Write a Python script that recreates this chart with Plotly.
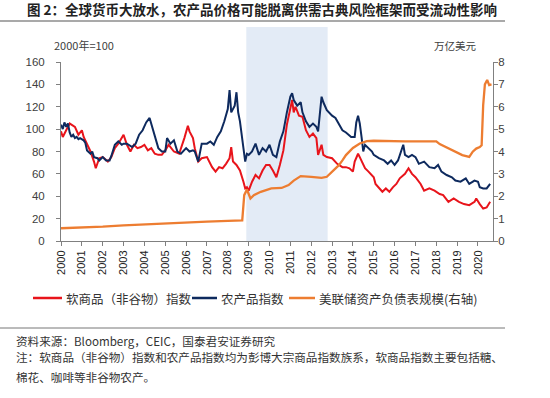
import plotly.graph_objects as go

# ---------------- data ----------------
agri_dates = ["2000-01","2000-02","2000-03","2000-04","2000-05","2000-06","2000-07","2000-08","2000-09","2000-10","2000-11","2000-12",
"2001-02","2001-03","2001-04","2001-06","2001-07","2001-08","2001-10","2001-11",
"2002-01","2002-03","2002-05","2002-06","2002-08","2002-10","2002-12",
"2003-01","2003-03","2003-06","2003-08","2003-10","2003-12",
"2004-02","2004-04","2004-05","2004-07","2004-09","2004-11",
"2005-01","2005-02","2005-04","2005-06","2005-08","2005-10",
"2006-01","2006-03","2006-05","2006-06","2006-08","2006-10",
"2007-01","2007-03","2007-05","2007-07","2007-09","2007-11",
"2008-01","2008-02","2008-03","2008-05","2008-06","2008-07","2008-08","2008-10","2008-11","2008-12",
"2009-01","2009-03","2009-05","2009-07","2009-09","2009-11",
"2010-01","2010-03","2010-05","2010-07","2010-09","2010-11",
"2011-01","2011-02","2011-03","2011-05","2011-07","2011-08","2011-10","2011-12",
"2012-02","2012-04","2012-05","2012-07","2012-08","2012-10",
"2013-01","2013-03","2013-05","2013-07","2013-09","2013-12",
"2014-02","2014-03","2014-04","2014-05","2014-06","2014-07","2014-08","2014-10","2014-12",
"2015-01","2015-04","2015-07","2015-09","2015-11",
"2016-01","2016-03","2016-06","2016-07","2016-09","2016-11",
"2017-01","2017-03","2017-06","2017-09","2017-12",
"2018-02","2018-04","2018-07","2018-10","2018-12",
"2019-03","2019-06","2019-08","2019-11",
"2020-01","2020-02","2020-04","2020-06","2020-08"]
agri_index = [104,100,106,102,105,97,93,95,92,93,91,92,
90,88,81,78,80,75,74,72,
75,72,72,76,86,89,86,
87,87,84,87,95,99,
106,110,105,93,83,80,
80,92,87,90,80,78,
83,80,81,80,71,87,
87,89,86,93,98,107,
118,135,115,121,133,115,107,83,71,78,
77,80,87,77,83,80,
86,77,75,89,98,115,
129,132,126,121,124,115,107,102,
105,102,98,129,124,117,
112,110,105,99,97,93,
93,106,112,105,93,80,86,83,80,
77,74,72,69,72,
68,72,86,77,75,77,
75,69,71,66,65,
68,62,59,57,54,
53,56,51,54,
53,48,47,47,51]

soft_dates = ["2000-01","2000-02","2000-04","2000-06","2000-07","2000-09","2000-11",
"2001-01","2001-02","2001-04","2001-06","2001-08","2001-09","2001-11",
"2002-01","2002-04","2002-06","2002-08","2002-10",
"2003-01","2003-03","2003-05","2003-07","2003-09","2003-11",
"2004-01","2004-03","2004-05","2004-07","2004-09","2004-11",
"2005-01","2005-03","2005-06","2005-09","2005-12",
"2006-02","2006-03","2006-05","2006-06","2006-08","2006-10",
"2007-01","2007-04","2007-06","2007-08","2007-10","2007-12",
"2008-02","2008-03","2008-04","2008-06","2008-08","2008-10","2008-11","2008-12",
"2009-01","2009-03","2009-05","2009-07","2009-09","2009-11",
"2010-01","2010-03","2010-05","2010-07","2010-09","2010-11",
"2011-01","2011-02","2011-03","2011-04","2011-06","2011-08","2011-10","2011-12",
"2012-02","2012-04","2012-05","2012-07","2012-08","2012-10",
"2013-01","2013-04","2013-07","2013-09","2013-11",
"2014-01","2014-02","2014-04","2014-05","2014-07","2014-08","2014-10",
"2015-01","2015-02","2015-04","2015-06","2015-08","2015-10","2015-12",
"2016-02","2016-04","2016-07","2016-09","2016-11",
"2017-01","2017-04","2017-06","2017-09","2017-12",
"2018-03","2018-05","2018-08","2018-11",
"2019-02","2019-05","2019-08","2019-11","2019-12",
"2020-02","2020-04","2020-06","2020-08"]
soft_index = [98,93,99,105,104,102,95,
99,93,86,80,71,65,74,
75,71,75,83,87,
95,86,80,86,83,84,
86,81,83,78,77,77,
81,86,80,78,92,
103,98,92,83,71,74,
75,66,62,66,65,69,
74,84,71,68,63,53,47,48,
45,53,59,56,63,68,
68,63,57,68,81,104,
118,126,115,120,112,111,99,93,
96,92,77,86,77,75,
74,69,66,66,65,
62,71,78,75,69,65,62,
57,51,48,44,47,44,48,
51,56,60,65,60,
57,51,45,47,45,
42,41,35,38,
35,33,32,35,38,
33,29,30,35]

fed_dates = ["2000-01-01","2001-01-01","2002-01-01","2003-01-01","2004-01-01","2005-01-01","2006-01-01","2007-01-01","2008-01-01",
"2008-09-10","2008-10-15","2008-12-01","2009-02-01","2009-04-01","2009-08-01","2010-02-01","2010-08-01","2010-12-01",
"2011-03-01","2011-07-01","2012-01-01","2012-07-01","2012-10-01","2013-02-01","2013-05-01","2013-07-01","2013-09-01",
"2014-01-01","2014-05-01","2014-09-01","2015-01-01","2016-07-01","2018-01-01","2018-03-01","2018-10-01","2019-04-01",
"2019-08-01","2019-10-01","2019-12-01","2020-02-01","2020-03-05","2020-04-01","2020-05-01","2020-06-10","2020-07-15","2020-08-25"]
fed_assets = [0.57,0.60,0.64,0.70,0.75,0.79,0.83,0.87,0.90,
0.92,2.05,2.30,1.90,2.05,2.20,2.35,2.37,2.50,
2.70,2.90,2.87,2.82,2.87,3.16,3.39,3.60,3.84,
4.16,4.36,4.46,4.48,4.45,4.45,4.33,4.06,3.84,
3.76,3.99,4.13,4.20,4.28,6.07,7.00,7.20,6.97,7.00]

name_soft = "软商品（非谷物）指数"
name_agri = "农产品指数"
name_fed = "美联储资产负债表规模(右轴)"
qe_start, qe_end = "2008-11-20", "2012-10-15"

title_text = "图 2：全球货币大放水，农产品价格可能脱离供需古典风险框架而受流动性影响"
left_unit = "2000年=100"
right_unit = "万亿美元"
source_text = "资料来源：Bloomberg，CEIC，国泰君安证券研究"
note_line1 = "注：软商品（非谷物）指数和农产品指数均为彭博大宗商品指数族系，软商品指数主要包括糖、"
note_line2 = "棉花、咖啡等非谷物农产。"

# ---------------- figure ----------------
W, H = 550, 398
L, R, T, B = 61, 57, 62, 157
pw, ph = W - L - R, H - T - B

def px(x):
    return (x - L) / pw

def py(y):
    return (H - B - y) / ph

CJK = "Noto Sans CJK SC"
colors = {name_soft: "#E8141B", name_agri: "#0E2A5E", name_fed: "#ED7D31"}

fig = go.Figure()
fig.add_trace(go.Scatter(x=soft_dates, y=soft_index, name=name_soft, mode="lines",
                         line=dict(color=colors[name_soft], width=2)))
fig.add_trace(go.Scatter(x=agri_dates, y=agri_index, name=name_agri, mode="lines",
                         line=dict(color=colors[name_agri], width=2)))
fig.add_trace(go.Scatter(x=fed_dates, y=fed_assets, name=name_fed, mode="lines", yaxis="y2",
                         line=dict(color=colors[name_fed], width=2.3)))

fig.add_shape(type="rect", xref="x", yref="paper", x0=qe_start, x1=qe_end, y0=0, y1=py(27),
              fillcolor="#E3EBF6", line=dict(width=0), layer="below")
# rules
fig.add_shape(type="line", xref="paper", yref="paper", x0=px(0), x1=px(505), y0=py(21), y1=py(21),
              line=dict(color="#555555", width=1.2))
fig.add_shape(type="line", xref="paper", yref="paper", x0=px(0), x1=px(505), y0=py(328), y1=py(328),
              line=dict(color="#777777", width=1))

def ann(text, x, y, size, color="#333333", anchor="left"):
    fig.add_annotation(text=text, xref="paper", yref="paper",
                       x=px(x), y=py(y), xanchor=anchor, yanchor="middle", showarrow=False,
                       align=anchor, borderpad=0,
                       font=dict(family=CJK, size=size, color=color))

# legend (drawn as key lines + labels, laid out like the original)
legend_items = [(name_soft, 33, 62, 65), (name_agri, 192, 217, 220), (name_fed, 289, 315, 318)]
for nm, lx0, lx1, tx in legend_items:
    fig.add_shape(type="line", xref="paper", yref="paper", x0=px(lx0), x1=px(lx1), y0=py(298), y1=py(298),
                  line=dict(color=colors[nm], width=2.5))
    ann(nm, tx, 298, 12.5, color="#333333")

ann(left_unit, 53, 45, 11, color="#404040")
ann(right_unit, 478, 45, 10.5, color="#404040", anchor="right")
ann(source_text, 15, 341, 11.6, color="#333333")
ann(note_line1, 15, 357, 11.6, color="#333333")
ann(note_line2, 15, 377, 11.6, color="#333333")

fig.update_layout(
    width=W, height=H, margin=dict(l=L, r=R, t=T, b=B, pad=0, autoexpand=False),
    paper_bgcolor="white", plot_bgcolor="white",
    title=dict(text="<b>%s</b>" % title_text, xref="container", yref="container",
               x=27 / W, xanchor="left", y=1 - 10 / H, yanchor="middle",
               font=dict(family=CJK, size=13.5, color="#222222")),
    showlegend=False,
    xaxis=dict(type="date", range=["2000-01-01", "2020-09-20"], dtick="M12", tick0="2000-01-01",
               tickformat="%Y", tickangle=-90, ticks="outside", ticklen=4, tickcolor="#808080",
               showline=True, linecolor="#808080", showgrid=False, zeroline=False, automargin=False,
               tickfont=dict(family="Liberation Sans", size=11, color="#222222")),
    yaxis=dict(range=[0, 160], dtick=20, ticks="outside", ticklen=4, tickcolor="#808080",
               showline=True, linecolor="#808080", showgrid=False, zeroline=False, automargin=False,
               ticklabelstandoff=9,
               tickfont=dict(family="Liberation Sans", size=11.5, color="#404040")),
    yaxis2=dict(range=[0, 8], dtick=1, overlaying="y", side="right", ticks="outside", ticklen=4,
                tickcolor="#808080", showline=True, linecolor="#808080", showgrid=False, zeroline=False,
                automargin=False, ticklabelstandoff=-2,
                tickfont=dict(family="Liberation Sans", size=11.5, color="#404040")),
)

fig.write_html("out.html", config={"displayModeBar": False},
               post_script="document.body.style.margin='0';")
